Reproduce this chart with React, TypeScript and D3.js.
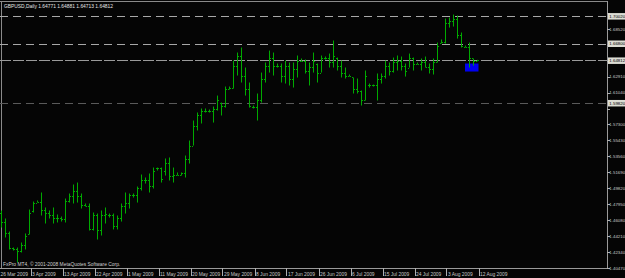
import React, { useEffect } from "react";
import * as d3 from "d3";

const W = 625;
const H = 278;

const symbolTitle = "GBPUSD,Daily  1.64771 1.64881 1.64713 1.64812";
const copyright = "FxPro MT4, \u00A9 2001-2008 MetaQuotes Software Corp.";

const opens = [
  1.4696, 1.4579, 1.4461, 1.4274, 1.4262, 1.4250, 1.4309, 1.4438, 1.4708, 1.4813,
  1.4825, 1.4720, 1.4696, 1.4661, 1.4626, 1.4637, 1.4614, 1.4837, 1.4884, 1.4954,
  1.4884, 1.4790, 1.4778, 1.4508, 1.4661, 1.4485, 1.4661, 1.4661, 1.4661, 1.4532,
  1.4626, 1.4767, 1.4802, 1.4896, 1.4896, 1.4978, 1.5072, 1.5072, 1.5013, 1.5213,
  1.5213, 1.5189, 1.5283, 1.5130, 1.5142, 1.5142, 1.5154, 1.5330, 1.5482, 1.5717,
  1.5835, 1.5893, 1.5893, 1.5882, 1.5917, 1.5987, 1.5952, 1.6151, 1.6163, 1.6421,
  1.6539, 1.6304, 1.6151, 1.5940, 1.5940, 1.6011, 1.6269, 1.6421, 1.6504, 1.6421,
  1.6421, 1.6304, 1.6421, 1.6269, 1.6386, 1.6480, 1.6480, 1.6363, 1.6410, 1.6445,
  1.6339, 1.6504, 1.6504, 1.6457, 1.6515, 1.6421, 1.6339, 1.6304, 1.6281, 1.6151,
  1.6128, 1.6011, 1.6187, 1.6187, 1.6187, 1.6269, 1.6304, 1.6421, 1.6363, 1.6457,
  1.6480, 1.6421, 1.6398, 1.6504, 1.6445, 1.6445, 1.6457, 1.6410, 1.6386, 1.6457,
  1.6691, 1.6703, 1.6926, 1.6950, 1.6973, 1.6774, 1.6644, 1.6644, 1.6504, 1.64771,
];
const highs = [
  1.4720, 1.4626, 1.4473, 1.4285, 1.4285, 1.4344, 1.4450, 1.4731, 1.4825, 1.4837,
  1.4931, 1.4755, 1.4720, 1.4755, 1.4673, 1.4649, 1.4860, 1.4919, 1.5025, 1.5048,
  1.4919, 1.4802, 1.4802, 1.4696, 1.4684, 1.4720, 1.4755, 1.4684, 1.4684, 1.4661,
  1.4802, 1.4931, 1.4919, 1.4919, 1.5001, 1.5142, 1.5107, 1.5154, 1.5224, 1.5224,
  1.5224, 1.5330, 1.5342, 1.5224, 1.5166, 1.5166, 1.5365, 1.5541, 1.5776, 1.5870,
  1.5917, 1.5917, 1.5905, 1.5940, 1.6069, 1.5987, 1.6175, 1.6175, 1.6480, 1.6574,
  1.6633, 1.6398, 1.6222, 1.5952, 1.6093, 1.6339, 1.6457, 1.6597, 1.6574, 1.6445,
  1.6445, 1.6480, 1.6457, 1.6457, 1.6539, 1.6504, 1.6492, 1.6457, 1.6574, 1.6445,
  1.6539, 1.6527, 1.6562, 1.6715, 1.6515, 1.6480, 1.6398, 1.6316, 1.6281, 1.6269,
  1.6128, 1.6363, 1.6210, 1.6198, 1.6328, 1.6328, 1.6480, 1.6457, 1.6515, 1.6539,
  1.6527, 1.6445, 1.6562, 1.6515, 1.6457, 1.6504, 1.6527, 1.6445, 1.6504, 1.6691,
  1.6727, 1.6973, 1.6985, 1.7020, 1.7008, 1.6809, 1.6656, 1.6691, 1.6504, 1.64881,
];
const lows = [
  1.4520, 1.4403, 1.4262, 1.4250, 1.4109, 1.4227, 1.4262, 1.4438, 1.4696, 1.4813,
  1.4661, 1.4567, 1.4626, 1.4567, 1.4579, 1.4590, 1.4579, 1.4813, 1.4802, 1.4813,
  1.4743, 1.4767, 1.4485, 1.4485, 1.4379, 1.4426, 1.4567, 1.4637, 1.4497, 1.4497,
  1.4590, 1.4684, 1.4743, 1.4872, 1.4813, 1.4954, 1.5036, 1.4931, 1.4978, 1.5189,
  1.5048, 1.5130, 1.5072, 1.5048, 1.5130, 1.5130, 1.5107, 1.5271, 1.5482, 1.5659,
  1.5741, 1.5870, 1.5870, 1.5752, 1.5893, 1.5835, 1.5928, 1.6140, 1.6151, 1.6304,
  1.6222, 1.6069, 1.5928, 1.5917, 1.5776, 1.5987, 1.6222, 1.6339, 1.6304, 1.6398,
  1.6222, 1.6210, 1.6187, 1.6163, 1.6281, 1.6468, 1.6328, 1.6187, 1.6339, 1.6222,
  1.6339, 1.6492, 1.6398, 1.6398, 1.6363, 1.6281, 1.6269, 1.6292, 1.6093, 1.6093,
  1.5952, 1.6011, 1.6163, 1.6175, 1.6011, 1.6210, 1.6269, 1.6304, 1.6339, 1.6363,
  1.6363, 1.6292, 1.6398, 1.6363, 1.6433, 1.6363, 1.6398, 1.6328, 1.6316, 1.6457,
  1.6680, 1.6680, 1.6867, 1.6879, 1.6738, 1.6633, 1.6633, 1.6398, 1.6421, 1.64713,
];
const closes = [
  1.4579, 1.4461, 1.4285, 1.4262, 1.4250, 1.4309, 1.4426, 1.4696, 1.4813, 1.4825,
  1.4720, 1.4696, 1.4661, 1.4626, 1.4637, 1.4614, 1.4837, 1.4884, 1.4954, 1.4884,
  1.4790, 1.4778, 1.4508, 1.4661, 1.4485, 1.4661, 1.4684, 1.4661, 1.4532, 1.4626,
  1.4767, 1.4802, 1.4896, 1.4896, 1.4978, 1.5072, 1.5072, 1.5013, 1.5189, 1.5213,
  1.5095, 1.5283, 1.5130, 1.5142, 1.5142, 1.5154, 1.5330, 1.5482, 1.5717, 1.5835,
  1.5893, 1.5893, 1.5882, 1.5917, 1.6011, 1.5952, 1.6151, 1.6163, 1.6421, 1.6539,
  1.6304, 1.6151, 1.5952, 1.5940, 1.6011, 1.6269, 1.6421, 1.6504, 1.6421, 1.6421,
  1.6304, 1.6421, 1.6269, 1.6386, 1.6480, 1.6480, 1.6363, 1.6410, 1.6480, 1.6339,
  1.6504, 1.6504, 1.6457, 1.6539, 1.6421, 1.6339, 1.6304, 1.6304, 1.6151, 1.6128,
  1.6011, 1.6304, 1.6187, 1.6187, 1.6269, 1.6304, 1.6421, 1.6363, 1.6457, 1.6480,
  1.6421, 1.6363, 1.6504, 1.6445, 1.6445, 1.6457, 1.6410, 1.6386, 1.6457, 1.6656,
  1.6703, 1.6926, 1.6950, 1.6973, 1.6774, 1.6656, 1.6644, 1.6504, 1.6480, 1.64812,
];

const priceTicks = [
  1.4047, 1.4234, 1.4421, 1.4608, 1.4795, 1.4982, 1.5169, 1.5356, 1.5543,
  1.573, 1.5917, 1.6104, 1.6291, 1.6478, 1.6665, 1.6852, 1.7039,
];

const dateLabels = [
  "26 Mar 2009", "3 Apr 2009", "13 Apr 2009", "22 Apr 2009", "1 May 2009",
  "11 May 2009", "20 May 2009", "29 May 2009", "8 Jun 2009", "17 Jun 2009",
  "26 Jun 2009", "6 Jul 2009", "15 Jul 2009", "24 Jul 2009", "3 Aug 2009",
  "12 Aug 2009",
];
const dateLabelBars = [0, 8, 16, 24, 32, 40, 48, 56, 64, 72, 80, 88, 96, 104, 112, 120];

const levelPrices = [1.7002, 1.668, 1.64812, 1.5982];
const levelColors = ["#a8a8a8", "#a8a8a8", "#9a9a9a", "#5a5a5a"];
const levelDashes = ["8,5", "8,5", "11,2", "8,5"];

const markerBars = [116, 119];
const markerPrices = [1.6445, 1.6351];

const FONT = "'Liberation Sans', Arial, sans-serif";

export default function App() {
  useEffect(() => {
    document.body.style.margin = "0";
    document.body.style.background = "#050505";
  }, []);

  const plotRight = 607;
  const plotBottom = 268;

  const x = d3.scaleLinear().domain([0, 119]).range([1.5, 477.5]);
  const y = d3.scaleLinear().domain([1.4047, 1.5917]).range([267.8, 108.5]);
  const fmt = d3.format(".5f");

  const barColor = "#00aa00";

  // tick labels hidden beneath the level labels (as in the terminal)
  const visibleTicks = priceTicks.filter(
    (p) => !levelPrices.some((lp) => Math.abs(y(lp) - y(p)) < 6.5)
  );

  return (
    <svg
      width={W}
      height={H}
      style={{ position: "absolute", left: 0, top: 0, display: "block" }}
      fontFamily={FONT}
    >
      <rect x={0} y={0} width={W} height={H} fill="#050505" />

      {/* chart border */}
      <line x1={0} x2={plotRight} y1={1.5} y2={1.5} stroke="#8a8a8a" strokeWidth={1} />
      <line x1={1.5} x2={1.5} y1={1} y2={plotBottom} stroke="#8a8a8a" strokeWidth={1} />
      <line x1={plotRight + 0.5} x2={plotRight + 0.5} y1={1} y2={plotBottom + 1} stroke="#9a9a9a" strokeWidth={1} />
      <line x1={0} x2={plotRight + 1} y1={plotBottom + 0.5} y2={plotBottom + 0.5} stroke="#9a9a9a" strokeWidth={1} />

      {/* horizontal level lines */}
      {levelPrices.map((p, i) => (
        <line
          key={"lv" + i}
          x1={0}
          x2={plotRight}
          y1={Math.round(y(p)) + 0.5}
          y2={Math.round(y(p)) + 0.5}
          stroke={levelColors[i]}
          strokeWidth={1}
          strokeDasharray={levelDashes[i]}
        />
      ))}

      {/* marker rect */}
      <rect
        x={x(markerBars[0]) - 0.5}
        y={y(markerPrices[0])}
        width={x(markerBars[1]) - x(markerBars[0]) + 1.5}
        height={y(markerPrices[1]) - y(markerPrices[0])}
        fill="#0000f0"
      />

      {/* OHLC bars */}
      {opens.map((o, i) => {
        const cx = x(i) - 0.5;
        const yh = y(highs[i]);
        const yl = y(lows[i]);
        return (
          <g key={"b" + i} fill={barColor}>
            <rect x={cx} y={yh} width={1} height={Math.max(1, yl - yh)} />
            <rect x={cx - 1} y={Math.round(y(o))} width={1} height={1} />
            <rect x={cx + 1} y={Math.round(y(closes[i]))} width={1} height={1} />
          </g>
        );
      })}

      {/* title */}
      <text x={4} y={8} fontSize={4.9} fill="#e6e6e6">
        {symbolTitle}
      </text>
      <text x={3} y={266} fontSize={4.9} fill="#d0d0d0">
        {copyright}
      </text>

      {/* price axis */}
      {priceTicks.map((p, i) => (
        <line
          key={"pk" + i}
          x1={plotRight}
          x2={plotRight + 3}
          y1={Math.round(y(p)) + 0.5}
          y2={Math.round(y(p)) + 0.5}
          stroke="#b0b0b0"
        />
      ))}
      {visibleTicks.map((p, i) => (
        <text key={"pt" + i} x={609.3} y={y(p) + 1.7} fontSize={4.4} fill="#c8c8c8">
          {fmt(p)}
        </text>
      ))}

      {/* level labels */}
      {levelPrices.map((p, i) => (
        <g key={"ll" + i}>
          <rect x={plotRight + 1} y={y(p) - 3} width={W - plotRight} height={6.5} fill="#dcdcd4" />
          <text x={609.3} y={y(p) + 1.7} fontSize={4.4} fill="#000000">
            {fmt(p)}
          </text>
        </g>
      ))}

      {/* date axis */}
      {dateLabels.map((d, i) => {
        const lx = x(dateLabelBars[i]) - 1.5;
        return (
          <g key={"dl" + i}>
            <line
              x1={Math.round(lx - 1.5) + 0.5}
              x2={Math.round(lx - 1.5) + 0.5}
              y1={plotBottom}
              y2={plotBottom + 8}
              stroke="#b0b0b0"
            />
            <text x={Math.max(0.5, lx)} y={275.5} fontSize={4.9} fill="#c8c8c8">
              {d}
            </text>
          </g>
        );
      })}
    </svg>
  );
}
